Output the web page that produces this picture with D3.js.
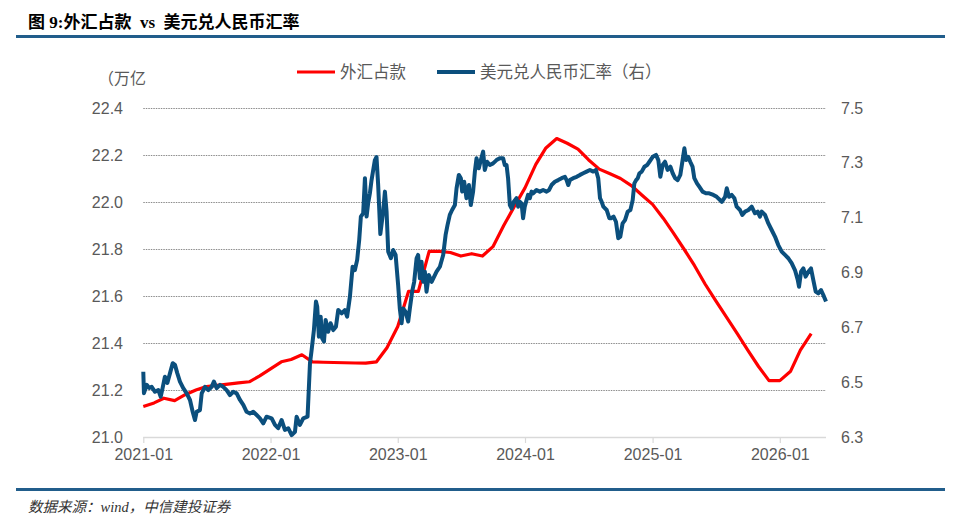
<!DOCTYPE html>
<html>
<head>
<meta charset="utf-8">
<script src="https://cdn.jsdelivr.net/npm/d3@7"></script>
<style>
  body { margin: 0; background: #fff; }
  svg text { font-family: "Liberation Sans", Arial, sans-serif; }
</style>
</head>
<body>
<div id="chart"></div>
<script>
// x axis tick labels (one per January)
var xTickLabels = ["2021-01", "2022-01", "2023-01", "2024-01", "2025-01", "2026-01"];
var leftTicks = [21.0, 21.2, 21.4, 21.6, 21.8, 22.0, 22.2, 22.4];
var rightTicks = [6.3, 6.5, 6.7, 6.9, 7.1, 7.3, 7.5];

// 外汇占款, monthly from 2021-01 (万亿)
var fxStart = [2021, 0];
var fxValues = [21.13, 21.145, 21.165, 21.155, 21.18, 21.20, 21.215, 21.22, 21.225, 21.23, 21.235, 21.26,
  21.29, 21.32, 21.33, 21.35, 21.32, 21.318, 21.317, 21.316, 21.315, 21.314, 21.32, 21.38,
  21.47, 21.62, 21.62, 21.79, 21.79, 21.785, 21.77, 21.78, 21.77, 21.81, 21.9, 21.98,
  22.06, 22.16, 22.23, 22.27, 22.25, 22.225, 22.18, 22.14, 22.12, 22.10, 22.07, 22.03,
  21.99, 21.93, 21.87, 21.80, 21.73, 21.65, 21.58, 21.51, 21.44, 21.37, 21.30, 21.24,
  21.24, 21.28, 21.37, 21.44];

// 美元兑人民币汇率: [decimal year, rate]
var rateSeries = [
  [2021.000, 6.538], [2021.005, 6.460], [2021.027, 6.490], [2021.047, 6.479], [2021.066, 6.483],
  [2021.092, 6.465], [2021.118, 6.471], [2021.137, 6.447], [2021.152, 6.479], [2021.170, 6.520],
  [2021.189, 6.497], [2021.210, 6.533], [2021.231, 6.569], [2021.249, 6.563], [2021.267, 6.533],
  [2021.288, 6.502], [2021.314, 6.478], [2021.341, 6.459], [2021.367, 6.435], [2021.388, 6.392],
  [2021.406, 6.362], [2021.419, 6.392], [2021.445, 6.398], [2021.459, 6.459], [2021.485, 6.483],
  [2021.511, 6.471], [2021.537, 6.483], [2021.555, 6.502], [2021.577, 6.478], [2021.603, 6.490],
  [2021.628, 6.483], [2021.655, 6.471], [2021.681, 6.453], [2021.707, 6.465], [2021.734, 6.459],
  [2021.760, 6.435], [2021.786, 6.417], [2021.812, 6.392], [2021.838, 6.386], [2021.864, 6.392],
  [2021.891, 6.380], [2021.917, 6.368], [2021.943, 6.350], [2021.969, 6.374], [2022.009, 6.368],
  [2022.035, 6.344], [2022.060, 6.332], [2022.087, 6.362], [2022.113, 6.326], [2022.139, 6.332],
  [2022.166, 6.307], [2022.192, 6.319], [2022.205, 6.374], [2022.231, 6.344], [2022.257, 6.368],
  [2022.291, 6.374], [2022.310, 6.569], [2022.323, 6.617], [2022.341, 6.690], [2022.357, 6.794],
  [2022.367, 6.775], [2022.380, 6.666], [2022.394, 6.739], [2022.406, 6.660], [2022.420, 6.648],
  [2022.433, 6.727], [2022.453, 6.684], [2022.472, 6.715], [2022.493, 6.690], [2022.514, 6.702],
  [2022.532, 6.763], [2022.559, 6.751], [2022.584, 6.763], [2022.602, 6.739], [2022.624, 6.812],
  [2022.645, 6.921], [2022.663, 6.909], [2022.681, 6.946], [2022.697, 7.019], [2022.710, 7.104],
  [2022.728, 7.116], [2022.742, 7.244], [2022.755, 7.104], [2022.767, 7.152], [2022.781, 7.189],
  [2022.794, 7.237], [2022.807, 7.274], [2022.820, 7.310], [2022.833, 7.321], [2022.846, 7.219],
  [2022.863, 7.040], [2022.885, 7.122], [2022.899, 7.195], [2022.912, 7.122], [2022.925, 6.976],
  [2022.946, 6.952], [2022.964, 6.982], [2022.983, 6.964], [2023.003, 6.854], [2023.016, 6.769],
  [2023.030, 6.715], [2023.042, 6.769], [2023.061, 6.757], [2023.082, 6.721], [2023.095, 6.769],
  [2023.113, 6.830], [2023.129, 6.866], [2023.148, 6.952], [2023.160, 6.964], [2023.174, 6.879],
  [2023.187, 6.939], [2023.200, 6.866], [2023.213, 6.903], [2023.226, 6.830], [2023.244, 6.891],
  [2023.266, 6.866], [2023.286, 6.885], [2023.305, 6.903], [2023.331, 6.921], [2023.357, 6.964],
  [2023.376, 7.037], [2023.391, 7.073], [2023.409, 7.110], [2023.427, 7.128], [2023.449, 7.146],
  [2023.462, 7.207], [2023.480, 7.256], [2023.496, 7.244], [2023.506, 7.195], [2023.522, 7.231],
  [2023.540, 7.171], [2023.559, 7.219], [2023.574, 7.146], [2023.592, 7.195], [2023.606, 7.268],
  [2023.619, 7.317], [2023.637, 7.280], [2023.653, 7.310], [2023.671, 7.341], [2023.684, 7.274],
  [2023.702, 7.304], [2023.724, 7.292], [2023.749, 7.298], [2023.776, 7.310], [2023.802, 7.317],
  [2023.828, 7.317], [2023.841, 7.292], [2023.855, 7.292], [2023.867, 7.244], [2023.881, 7.146],
  [2023.894, 7.134], [2023.912, 7.158], [2023.933, 7.171], [2023.946, 7.140], [2023.959, 7.158],
  [2023.973, 7.152], [2023.985, 7.098], [2023.998, 7.140], [2024.012, 7.164], [2024.024, 7.183],
  [2024.038, 7.171], [2024.051, 7.195], [2024.064, 7.189], [2024.090, 7.201], [2024.116, 7.195],
  [2024.142, 7.201], [2024.169, 7.195], [2024.189, 7.201], [2024.208, 7.219], [2024.234, 7.231],
  [2024.260, 7.237], [2024.287, 7.244], [2024.313, 7.249], [2024.326, 7.237], [2024.339, 7.219],
  [2024.352, 7.237], [2024.378, 7.244], [2024.405, 7.249], [2024.431, 7.256], [2024.456, 7.262],
  [2024.483, 7.268], [2024.509, 7.274], [2024.535, 7.268], [2024.556, 7.274], [2024.574, 7.244],
  [2024.588, 7.171], [2024.601, 7.158], [2024.614, 7.140], [2024.640, 7.128], [2024.661, 7.098],
  [2024.674, 7.098], [2024.694, 7.104], [2024.713, 7.085], [2024.731, 7.025], [2024.747, 7.031],
  [2024.765, 7.079], [2024.784, 7.091], [2024.805, 7.122], [2024.826, 7.128], [2024.844, 7.164],
  [2024.857, 7.225], [2024.871, 7.237], [2024.884, 7.244], [2024.897, 7.262], [2024.915, 7.268],
  [2024.936, 7.286], [2024.957, 7.292], [2024.975, 7.304], [2025.001, 7.322], [2025.027, 7.329],
  [2025.045, 7.310], [2025.061, 7.249], [2025.079, 7.292], [2025.098, 7.304], [2025.118, 7.274],
  [2025.140, 7.286], [2025.158, 7.262], [2025.177, 7.244], [2025.197, 7.237], [2025.218, 7.256],
  [2025.236, 7.310], [2025.250, 7.353], [2025.263, 7.310], [2025.280, 7.322], [2025.296, 7.304],
  [2025.314, 7.286], [2025.328, 7.244], [2025.349, 7.225], [2025.367, 7.213], [2025.393, 7.195],
  [2025.419, 7.189], [2025.445, 7.189], [2025.478, 7.183], [2025.504, 7.176], [2025.544, 7.158],
  [2025.570, 7.176], [2025.583, 7.207], [2025.601, 7.176], [2025.622, 7.183], [2025.643, 7.171],
  [2025.661, 7.140], [2025.687, 7.128], [2025.705, 7.110], [2025.727, 7.122], [2025.753, 7.128],
  [2025.779, 7.140], [2025.805, 7.116], [2025.826, 7.122], [2025.844, 7.104], [2025.858, 7.122],
  [2025.884, 7.110], [2025.910, 7.079], [2025.936, 7.055], [2025.962, 7.031], [2025.988, 7.000],
  [2026.015, 6.976], [2026.041, 6.964], [2026.067, 6.952], [2026.093, 6.934], [2026.119, 6.909],
  [2026.141, 6.873], [2026.151, 6.848], [2026.167, 6.903], [2026.185, 6.915], [2026.203, 6.885],
  [2026.224, 6.903], [2026.245, 6.915], [2026.263, 6.873], [2026.282, 6.830], [2026.302, 6.824],
  [2026.324, 6.836], [2026.342, 6.818], [2026.363, 6.794]
];

function yearToDate(t) {
  var y = Math.floor(t);
  var a = new Date(y, 0, 1), b = new Date(y + 1, 0, 1);
  return new Date(a.getTime() + (t - y) * (b - a));
}

function init() {
  var W = 960, H = 527;
  var plot = {left: 143.3, right: 826, top: 108, bottom: 437};
  var grey = "#595959";
  var red = "#ff0000", blue = "#0b4f7d";

  var svg = d3.select("#chart").append("svg")
    .attr("width", W).attr("height", H);

  // header and footer
  svg.append("text")
    .attr("x", 28).attr("y", 28)
    .attr("font-size", 17).attr("font-weight", "bold").attr("fill", "#000")
    .style("font-family", "'Liberation Serif', 'Noto Sans CJK SC', serif")
    .attr("xml:space", "preserve")
    .text("图 9:外汇占款  vs  美元兑人民币汇率");
  svg.append("line")
    .attr("x1", 16).attr("x2", 945).attr("y1", 36.5).attr("y2", 36.5)
    .attr("stroke", "#215d8b").attr("stroke-width", 3);
  svg.append("line")
    .attr("x1", 16).attr("x2", 945).attr("y1", 489.5).attr("y2", 489.5)
    .attr("stroke", "#215d8b").attr("stroke-width", 3);
  svg.append("text")
    .attr("x", 28).attr("y", 512)
    .attr("font-size", 14.5).attr("font-style", "italic").attr("fill", "#333")
    .style("font-family", "'Liberation Serif', 'Noto Sans CJK SC', serif")
    .text("数据来源：wind，中信建投证券");

  // scales
  var x = d3.scaleTime()
    .domain([yearToDate(2021), yearToDate(2026.363)])
    .range([plot.left, plot.right]);
  var yL = d3.scaleLinear().domain([21.0, 22.4]).range([plot.bottom, plot.top]);
  var yR = d3.scaleLinear().domain([6.3, 7.5]).range([plot.bottom, plot.top]);

  // dotted gridlines from the left axis
  svg.append("g").selectAll("line")
    .data(leftTicks.slice(1))
    .enter().append("line")
    .attr("x1", plot.left).attr("x2", plot.right)
    .attr("y1", function(d) { return Math.round(yL(d)) + 0.5; })
    .attr("y2", function(d) { return Math.round(yL(d)) + 0.5; })
    .attr("stroke", "#8c8c8c").attr("stroke-width", 1)
    .attr("stroke-dasharray", "1.5,1");

  // x axis
  var xTicks = xTickLabels.map(function(s) { return yearToDate(+s.slice(0, 4)); });
  var xAxis = svg.append("g")
    .attr("transform", "translate(0," + plot.bottom + ")")
    .call(d3.axisBottom(x).tickValues(xTicks).tickSize(6).tickPadding(6)
      .tickFormat(function(d, i) { return xTickLabels[i]; }));
  xAxis.select(".domain").attr("stroke", "#d9d9d9").attr("stroke-width", 1.5)
    .attr("d", "M" + plot.left + ",0.5H" + plot.right);
  xAxis.selectAll(".tick line").attr("stroke", "#d9d9d9").attr("stroke-width", 1.2);
  xAxis.selectAll(".tick text").attr("font-size", 16).attr("fill", grey)
    .style("font-family", "'Liberation Sans', Arial, sans-serif");

  // left axis
  var left = svg.append("g")
    .attr("transform", "translate(" + 123 + ",0)")
    .call(d3.axisLeft(yL).tickValues(leftTicks).tickSize(0).tickPadding(0)
      .tickFormat(d3.format(".1f")));
  left.select(".domain").remove();
  left.selectAll("text").attr("font-size", 16).attr("fill", grey)
    .style("font-family", "'Liberation Sans', Arial, sans-serif");

  // right axis
  var right = svg.append("g")
    .attr("transform", "translate(" + 841 + ",0)")
    .call(d3.axisRight(yR).tickValues(rightTicks).tickSize(0).tickPadding(0)
      .tickFormat(d3.format(".1f")));
  right.select(".domain").remove();
  right.selectAll("text").attr("font-size", 16).attr("fill", grey)
    .style("font-family", "'Liberation Sans', Arial, sans-serif");

  // unit label
  svg.append("text")
    .attr("x", 98).attr("y", 84)
    .attr("font-size", 16).attr("fill", grey)
    .style("font-family", "'Noto Sans CJK SC', sans-serif")
    .text("（万亿");

  // lines
  var fxLine = d3.line()
    .x(function(d, i) { return x(new Date(fxStart[0], fxStart[1] + i, 1)); })
    .y(function(d) { return yL(d); });
  svg.append("path")
    .datum(fxValues)
    .attr("d", fxLine)
    .attr("fill", "none").attr("stroke", red)
    .attr("stroke-width", 3.2).attr("stroke-linejoin", "round");

  var rateLine = d3.line()
    .x(function(d) { return x(yearToDate(d[0])); })
    .y(function(d) { return yR(d[1]); });
  svg.append("path")
    .datum(rateSeries)
    .attr("d", rateLine)
    .attr("fill", "none").attr("stroke", blue)
    .attr("stroke-width", 4).attr("stroke-linejoin", "round");

  // legend
  var legend = [
    {name: "外汇占款", color: red, x: 297},
    {name: "美元兑人民币汇率（右）", color: blue, x: 437}
  ];
  var lg = svg.append("g").selectAll("g")
    .data(legend).enter().append("g")
    .attr("transform", function(d) { return "translate(" + d.x + ",72)"; });
  lg.append("line")
    .attr("x1", 0).attr("x2", 38).attr("y1", 0).attr("y2", 0)
    .attr("stroke", function(d) { return d.color; })
    .attr("stroke-width", function(d, i) { return i ? 4 : 3.2; });
  lg.append("text")
    .attr("x", 43).attr("y", 0).attr("dy", "0.36em")
    .attr("font-size", 16.5).attr("fill", grey)
    .style("font-family", "'Noto Sans CJK SC', sans-serif")
    .text(function(d) { return d.name; });
}

window.onload = init;
</script>
</body>
</html>
